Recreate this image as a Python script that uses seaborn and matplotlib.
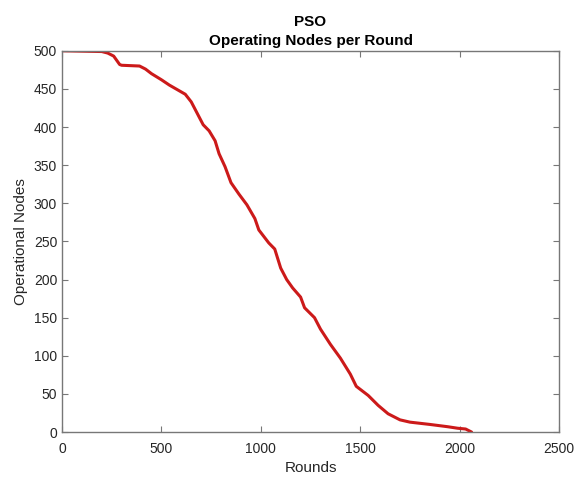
import matplotlib
matplotlib.use("Agg")
import matplotlib.pyplot as plt
import pandas as pd
import seaborn as sns

# data
rounds = [0, 200, 230, 260, 290, 300, 390, 420, 450, 500, 540, 580, 620, 650,
          680, 710, 740, 770, 790, 820, 850, 890, 930, 970, 990, 1040, 1070,
          1100, 1130, 1160, 1200, 1220, 1270, 1300, 1350, 1400, 1450, 1480,
          1540, 1590, 1640, 1700, 1750, 1850, 1940, 1990, 2030, 2060]
nodes = [500, 499, 497, 493, 482, 481, 480, 476, 470, 462, 455, 449, 443, 433,
         418, 403, 395, 382, 365, 348, 327, 312, 298, 280, 265, 248, 240,
         215, 200, 189, 177, 163, 150, 135, 115, 97, 76, 60,
         48, 35, 24, 16, 13, 10, 7, 5, 4, 0]

x_ticks = [0, 500, 1000, 1500, 2000, 2500]
y_ticks = [0, 50, 100, 150, 200, 250, 300, 350, 400, 450, 500]

df = pd.DataFrame({"Rounds": rounds, "Operational Nodes": nodes})

sns.set_style("white")
plt.rcParams['font.family'] = ['Liberation Sans', 'DejaVu Sans']

fig = plt.figure(figsize=(5.74, 4.79), dpi=100)
ax = fig.add_axes([0.108, 0.098, 0.866, 0.796])

sns.lineplot(data=df, x="Rounds", y="Operational Nodes", ax=ax,
             color="#cc1a1a", linewidth=2.2)

ax.set_xlim(0, 2500)
ax.set_ylim(0, 500)
ax.set_xticks(x_ticks)
ax.set_yticks(y_ticks)

grey = "#777777"
for s in ax.spines.values():
    s.set_color(grey)
    s.set_linewidth(1.0)
ax.tick_params(direction="in", length=4, width=0.8, color=grey,
               labelsize=10, labelcolor="#262626",
               top=True, right=True, bottom=True, left=True)
ax.tick_params(axis="x", pad=7)

ax.set_xlabel("Rounds", fontsize=11, color="#262626", labelpad=4)
ax.set_ylabel("Operational Nodes", fontsize=11, color="#262626", labelpad=4)
ax.set_title("PSO\nOperating Nodes per Round", fontsize=11, fontweight="bold",
             color="black", pad=4, linespacing=1.5)

plt.savefig("out.png", dpi=100)
plt.close()
